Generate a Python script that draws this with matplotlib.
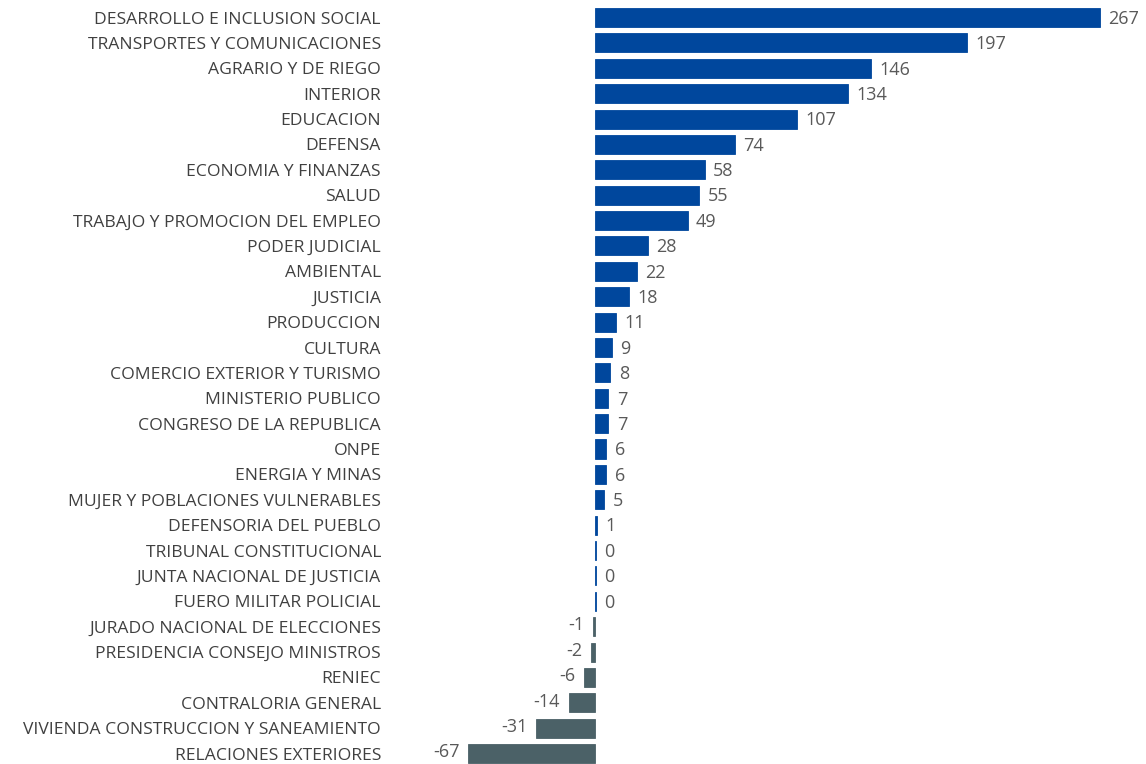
import numpy as np
import matplotlib.pyplot as plt

categories = [
    "DESARROLLO E INCLUSION SOCIAL", "TRANSPORTES Y COMUNICACIONES", "AGRARIO Y DE RIEGO",
    "INTERIOR", "EDUCACION", "DEFENSA", "ECONOMIA Y FINANZAS", "SALUD",
    "TRABAJO Y PROMOCION DEL EMPLEO", "PODER JUDICIAL", "AMBIENTAL", "JUSTICIA",
    "PRODUCCION", "CULTURA", "COMERCIO EXTERIOR Y TURISMO", "MINISTERIO PUBLICO",
    "CONGRESO DE LA REPUBLICA", "ONPE", "ENERGIA Y MINAS", "MUJER Y POBLACIONES VULNERABLES",
    "DEFENSORIA DEL PUEBLO", "TRIBUNAL CONSTITUCIONAL", "JUNTA NACIONAL DE JUSTICIA",
    "FUERO MILITAR POLICIAL", "JURADO NACIONAL DE ELECCIONES", "PRESIDENCIA CONSEJO MINISTROS",
    "RENIEC", "CONTRALORIA GENERAL", "VIVIENDA CONSTRUCCION Y SANEAMIENTO", "RELACIONES EXTERIORES",
]
values = [267, 197, 146, 134, 107, 74, 58, 55, 49, 28, 22, 18, 11, 9, 8, 7, 7, 6, 6, 5,
          1, 0.4, 0.4, 0.4, -1, -2, -6, -14, -31, -67]

blue = "#00479D"
grey = "#4B6167"
plt.rcParams['font.family'] = ['Open Sans', 'DejaVu Sans']

fig = plt.figure(figsize=(11.46, 7.64), dpi=100)
ax = fig.add_axes([0, 0, 1, 1])

y = np.arange(len(values))
colors = [blue if v >= 0 else grey for v in values]
ax.barh(y, values, height=0.75, color=colors, edgecolor=colors, linewidth=0.6)

ax.set_xlim(-595 / 1.89, 551 / 1.89)
ax.set_ylim(29.41, -0.69)
ax.axis('off')

lab_x = 381 / 1146
for i, (c, v) in enumerate(zip(categories, values)):
    ax.text(lab_x, i + 0.08, c, transform=ax.get_yaxis_transform(), ha='right', va='center',
            fontsize=12.6, color='#404040')
    off = 4.5
    if v >= 0:
        ax.text(v + off, i + 0.05, f"{round(v)}", ha='left', va='center', fontsize=13, color='#595959')
    else:
        ax.text(v - off, i - 0.05, f"{round(v)}", ha='right', va='center', fontsize=13, color='#595959')

fig.savefig("out.png", dpi=100)
